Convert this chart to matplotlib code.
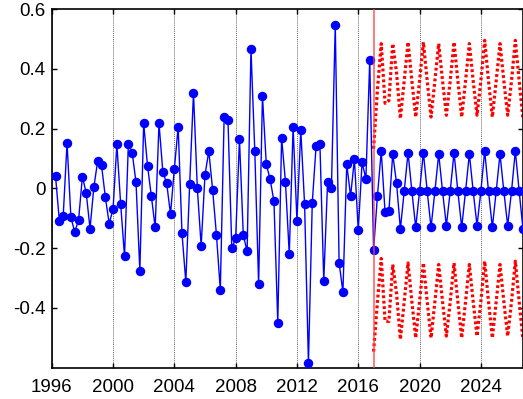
import numpy as np
import matplotlib
matplotlib.use("Agg")
import matplotlib.pyplot as plt

plt.rcParams['font.family'] = ['Liberation Sans', 'DejaVu Sans']
plt.rcParams['axes.unicode_minus'] = False

# quarterly observations, first quarter 1996.25
hist_start = 1996.25
hist_values = [
    0.040, -0.110, -0.092, 0.153, -0.097, -0.146, -0.107, 0.039,
    -0.015, -0.135, 0.005, 0.092, 0.077, -0.030, -0.118, -0.070,
    0.147, -0.054, -0.228, 0.147, 0.120, 0.020, -0.276, 0.218,
    0.076, -0.026, -0.131, 0.218, 0.055, 0.017, -0.086, 0.065,
    0.206, -0.151, -0.314, 0.013, 0.320, 0.000, -0.193, 0.045,
    0.125, -0.006, -0.157, -0.340, 0.240, 0.229, -0.201, -0.168,
    0.164, -0.157, -0.211, 0.467, 0.125, -0.321, 0.310, 0.081,
    0.030, -0.043, -0.450, 0.170, 0.022, -0.221, 0.206, -0.108,
    0.195, -0.054, -0.586, -0.048, 0.142, 0.147, -0.310, 0.022,
    0.000, 0.549, -0.249, -0.347, 0.081, -0.026, 0.098, -0.140,
    0.087, 0.032, 0.430,
]

# forecast, first quarter 2017.0
fc_start = 2017.0
fc_values = [
    -0.207, -0.026, 0.125, -0.080, -0.076, 0.115, 0.017, -0.136,
    -0.009, 0.120, -0.010, -0.131, -0.010, 0.120, -0.010, -0.131,
    -0.010, 0.115, -0.010, -0.125, -0.010, 0.120, -0.010, -0.131,
    -0.010, 0.115, -0.010, -0.125, -0.010, 0.126, -0.010, -0.131,
    -0.010, 0.115, -0.010, -0.125, -0.010, 0.126, -0.010, -0.137,
]
fc_upper = [
    0.133, 0.329, 0.485, 0.285, 0.294, 0.485, 0.387, 0.234,
    0.361, 0.490, 0.360, 0.239, 0.360, 0.490, 0.360, 0.239,
    0.360, 0.485, 0.360, 0.245, 0.360, 0.490, 0.360, 0.239,
    0.360, 0.485, 0.360, 0.245, 0.360, 0.496, 0.360, 0.239,
    0.360, 0.485, 0.360, 0.245, 0.360, 0.496, 0.360, 0.233,
]
fc_lower = [
    -0.547, -0.381, -0.235, -0.445, -0.446, -0.255, -0.353, -0.506,
    -0.379, -0.250, -0.380, -0.501, -0.380, -0.250, -0.380, -0.501,
    -0.380, -0.255, -0.380, -0.495, -0.380, -0.250, -0.380, -0.501,
    -0.380, -0.255, -0.380, -0.495, -0.380, -0.244, -0.380, -0.501,
    -0.380, -0.255, -0.380, -0.495, -0.380, -0.244, -0.380, -0.507,
]
forecast_origin = 2017.0
x_ticks = [1996, 2000, 2004, 2008, 2012, 2016, 2020, 2024]
y_ticks = [-0.4, -0.2, 0, 0.2, 0.4, 0.6]
y_ticklabels = ['-0.4', '-0.2', '0', '0.2', '0.4', '0.6']

t_hist = hist_start + 0.25 * np.arange(len(hist_values))
t_fc = fc_start + 0.25 * np.arange(len(fc_values))

fig = plt.figure(figsize=(5.23, 3.99), dpi=100)
ax = fig.add_axes([0.0989, 0.0769, 0.9011, 0.8998])

t_all = np.concatenate([t_hist, t_fc])
v_all = np.concatenate([hist_values, fc_values])

ax.plot(t_fc, fc_upper, color='red', lw=2.3, linestyle=(0, (0.9, 0.8)), zorder=2)
ax.plot(t_fc, fc_lower, color='red', lw=2.3, linestyle=(0, (0.9, 0.8)), zorder=2)
ax.plot(t_all, v_all, color='blue', lw=1.0, marker='o', markersize=5.8,
        markerfacecolor='blue', markeredgecolor='blue', zorder=3)
ax.axvline(forecast_origin, color='#ff4040', lw=1.2, alpha=0.8, zorder=4)

ax.set_xlim(1996.0, 2026.75)
ax.set_ylim(-0.603, 0.6)
ax.set_xticks(x_ticks)
ax.set_xticklabels([str(v) for v in x_ticks])
ax.set_yticks(y_ticks)
ax.set_yticklabels(y_ticklabels)

ax.xaxis.grid(True, color='#666666', linestyle=(0, (1, 1)), lw=0.7)
ax.yaxis.grid(False)
ax.set_axisbelow(True)

ax.tick_params(direction='in', length=3.5, width=1.0, top=True, right=True,
               labelsize=13.5, colors='black')
ax.tick_params(axis='x', pad=7.5)
ax.tick_params(axis='y', pad=4.5)
for s in ax.spines.values():
    s.set_linewidth(1.2)
    s.set_color('black')

fig.savefig('out.png', dpi=100)
